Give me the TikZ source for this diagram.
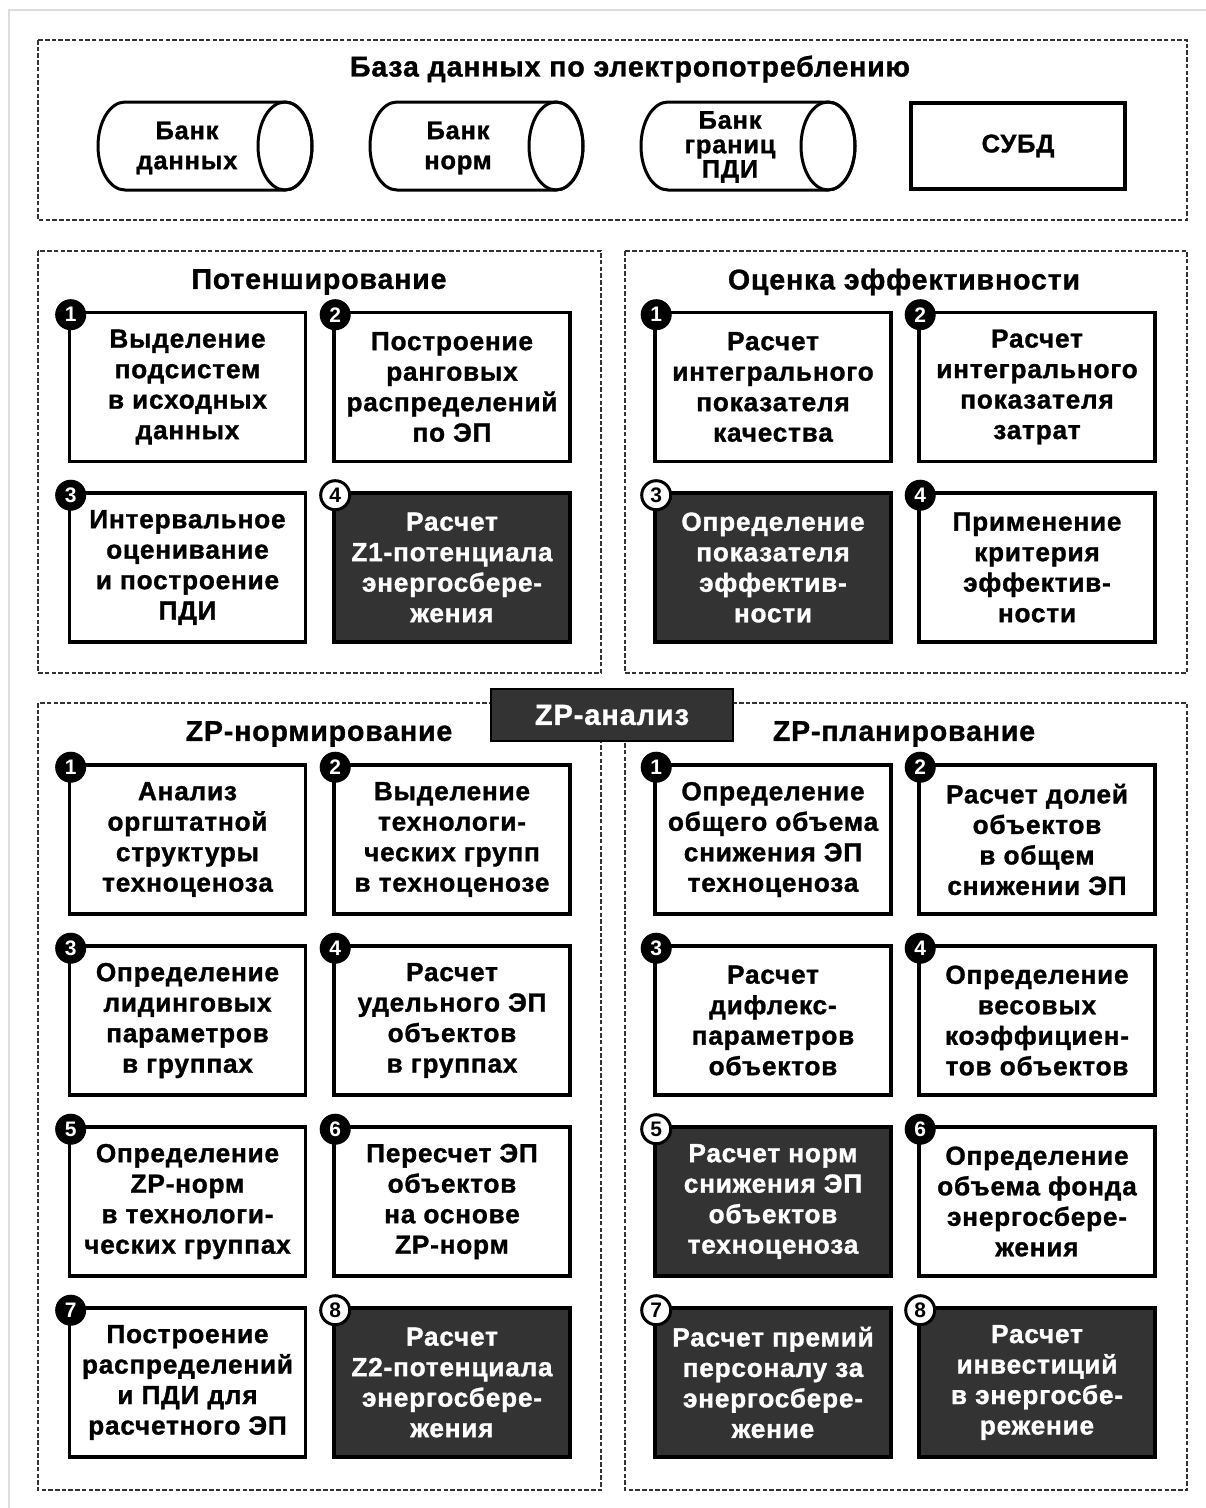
\documentclass[tikz,border=0pt]{standalone}
\usepackage{fontspec}
\setmainfont{Liberation Sans}
\newfontfamily\bxfont[LetterSpace=3,FakeBold=1.2]{Liberation Sans Bold}
\newfontfamily\nmfont{Liberation Sans Bold}
\definecolor{dk}{HTML}{333333}
\definecolor{fr}{HTML}{DDDDDD}
\tikzset{
  panel/.style={draw=dk, line width=2.4pt, dash pattern=on 4.5pt off 2.2pt},
  wbox/.style={draw=black, line width=3.6pt, fill=white, minimum width=236pt, minimum height=149pt, inner sep=0pt, align=center, font=\bxfont\fontsize{26.2}{30.5}\selectfont},
  dbox/.style={wbox, fill=dk, text=white},
  numw/.style={circle, fill=black, draw=black, line width=1pt, minimum size=30pt, inner sep=0pt, text=white, font=\nmfont\fontsize{21}{21}\selectfont},
  numd/.style={circle, fill=white, draw=black, line width=3pt, minimum size=29pt, inner sep=0pt, text=black, font=\nmfont\fontsize{21}{21}\selectfont},
  ttl/.style={font=\bxfont\fontsize{28.5}{30}\selectfont, inner sep=0pt},
  cyltext/.style={align=center, inner sep=0pt, font=\bxfont\fontsize{25.5}{30}\selectfont},
  cylline/.style={draw=black, line width=3pt},
}
\newcommand\wb[5]{% name, x, y, num, text
  \node[wbox] (#1) at (#2,#3) {#5};
  \node[numw] (#1n) at ([xshift=3pt,yshift=-4pt]#1.north west) {#4};}
\newcommand\db[5]{%
  \node[dbox] (#1) at (#2,#3) {#5};
  \node[numd] (#1n) at ([xshift=3pt,yshift=-4pt]#1.north west) {#4};}
\newcommand\cylshape[2]{% x1, x2 ; y from 102 to 190
  \draw[cylline, fill=white] (#1+27,102) arc[start angle=90, end angle=270, x radius=27pt, y radius=44pt] -- (#2-27,190) arc[start angle=-90, end angle=90, x radius=27pt, y radius=44pt] -- cycle;
  \draw[cylline] (#2-27,146) ellipse[x radius=27pt, y radius=44pt];}
\begin{document}
\begin{tikzpicture}[x=1pt,y=-1pt]
\useasboundingbox (0,0) rectangle (1206,1508);
\fill[white] (0,0) rectangle (1206,1508);
\draw[fr, line width=2pt] (9,1508) -- (9,10) -- (1206,10);
% top panel
\draw[panel] (38,40) rectangle (1187,220);
\node[ttl] (t0) at (630,69) {База данных по электропотреблению};
\cylshape{98}{312}
\node[cyltext] (c1) at (187,148) {Банк\\данных};
\cylshape{370}{583}
\node[cyltext] (c2) at (458,148) {Банк\\норм};
\cylshape{641}{855}
\node[cyltext, font=\bxfont\fontsize{25.5}{24.5}\selectfont] (c3) at (730,147) {Банк\\границ\\ПДИ};
\node[draw=black, line width=3.6pt, minimum width=214pt, minimum height=86pt, inner sep=0pt, font=\bxfont\fontsize{25.5}{28}\selectfont] (subd) at (1018,146) {\raisebox{-3pt}{СУБД}};
% middle panels
\draw[panel] (38,251) rectangle (601,673);
\draw[panel] (625,251) rectangle (1187,673);
\node[ttl] (t1) at (319,282) {Потенширование};
\node[ttl] (t2) at (904,282) {Оценка эффективности};
\wb{p1}{187.5}{387}{1}{Выделение\\подсистем\\в исходных\\данных}
\wb{p2}{452}{387}{2}{Построение\\ранговых\\распределений\\по ЭП}
\wb{p3}{187.5}{567.5}{3}{Интервальное\\оценивание\\и построение\\ПДИ}
\db{p4}{452}{567.5}{4}{Расчет\\Z1-потенциала\\энергосбере-\\жения}
\wb{o1}{773}{387}{1}{Расчет\\интегрального\\показателя\\качества}
\wb{o2}{1037}{387}{2}{Расчет\\интегрального\\показателя\\затрат}
\db{o3}{773}{567.5}{3}{Определение\\показателя\\эффектив-\\ности}
\wb{o4}{1037}{567.5}{4}{Применение\\критерия\\эффектив-\\ности}
% bottom panels
\draw[panel] (38,703) rectangle (601,1490);
\draw[panel] (625,703) rectangle (1187,1490);
\node[draw=black, line width=1.2pt, fill=dk, text=white, minimum width=242pt, minimum height=52pt, inner sep=0pt, font=\bxfont\fontsize{29}{30}\selectfont] (zp) at (612,715) {ZP-анализ};
\node[ttl] (t3) at (319,734) {ZP-нормирование};
\node[ttl] (t4) at (904,734) {ZP-планирование};
\wb{n1}{187.5}{839.5}{1}{Анализ\\оргштатной\\структуры\\техноценоза}
\wb{n2}{452}{839.5}{2}{Выделение\\технологи-\\ческих групп\\в техноценозе}
\wb{n3}{187.5}{1020.5}{3}{Определение\\лидинговых\\параметров\\в группах}
\wb{n4}{452}{1020.5}{4}{Расчет\\удельного ЭП\\объектов\\в группах}
\wb{n5}{187.5}{1201.5}{5}{Определение\\ZP-норм\\в технологи-\\ческих группах}
\wb{n6}{452}{1201.5}{6}{Пересчет ЭП\\объектов\\на основе\\ZP-норм}
\wb{n7}{187.5}{1382.5}{7}{Построение\\распределений\\и ПДИ для\\расчетного ЭП}
\db{n8}{452}{1382.5}{8}{Расчет\\Z2-потенциала\\энергосбере-\\жения}
\wb{q1}{773}{839.5}{1}{Определение\\общего объема\\снижения ЭП\\техноценоза}
\wb{q2}{1037}{839.5}{2}{Расчет долей\\объектов\\в общем\\снижении ЭП}
\wb{q3}{773}{1020.5}{3}{Расчет\\дифлекс-\\параметров\\объектов}
\wb{q4}{1037}{1020.5}{4}{Определение\\весовых\\коэффициен-\\тов объектов}
\db{q5}{773}{1201.5}{5}{Расчет норм\\снижения ЭП\\объектов\\техноценоза}
\wb{q6}{1037}{1201.5}{6}{Определение\\объема фонда\\энергосбере-\\жения}
\db{q7}{773}{1382.5}{7}{Расчет премий\\персоналу за\\энергосбере-\\жение}
\db{q8}{1037}{1382.5}{8}{Расчет\\инвестиций\\в энергосбе-\\режение}
\end{tikzpicture}
\end{document}
